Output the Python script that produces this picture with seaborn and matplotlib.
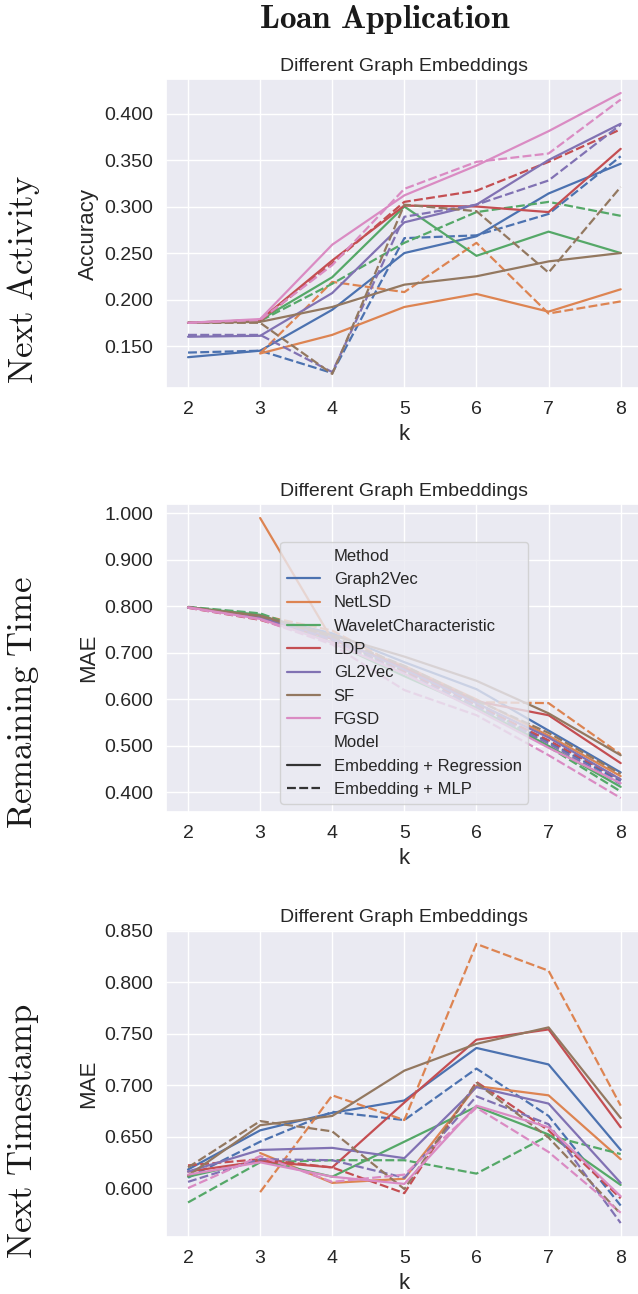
import numpy as np
import pandas as pd
import matplotlib
matplotlib.use("Agg")
import matplotlib.pyplot as plt
import seaborn as sns
from matplotlib.ticker import MultipleLocator, FormatStrFormatter

nan = np.nan
k_values = [2, 3, 4, 5, 6, 7, 8]
methods = ["Graph2Vec", "NetLSD", "WaveletCharacteristic", "LDP", "GL2Vec", "SF", "FGSD"]
models = ["Embedding + Regression", "Embedding + MLP"]

# ---- Next Activity (Accuracy) ----
acc_reg_graph2vec = [0.138, 0.145, 0.189, 0.250, 0.268, 0.314, 0.346]
acc_mlp_graph2vec = [0.143, 0.145, 0.121, 0.266, 0.269, 0.292, 0.354]
acc_reg_netlsd = [nan, 0.142, 0.162, 0.192, 0.206, 0.187, 0.211]
acc_mlp_netlsd = [nan, 0.142, 0.219, 0.208, 0.261, 0.185, 0.198]
acc_reg_wavelet = [0.175, 0.178, 0.224, 0.300, 0.247, 0.273, 0.250]
acc_mlp_wavelet = [0.175, 0.177, 0.217, 0.261, 0.294, 0.305, 0.290]
acc_reg_ldp = [0.175, 0.178, 0.242, 0.301, 0.300, 0.294, 0.362]
acc_mlp_ldp = [0.175, 0.177, 0.239, 0.305, 0.317, 0.348, 0.383]
acc_reg_gl2vec = [0.160, 0.161, 0.207, 0.283, 0.302, 0.350, 0.389]
acc_mlp_gl2vec = [0.162, 0.162, 0.122, 0.289, 0.302, 0.328, 0.388]
acc_reg_sf = [0.175, 0.176, 0.192, 0.216, 0.225, 0.241, 0.250]
acc_mlp_sf = [0.175, 0.175, 0.120, 0.302, 0.295, 0.229, 0.321]
acc_reg_fgsd = [0.175, 0.179, 0.259, 0.312, 0.344, 0.381, 0.422]
acc_mlp_fgsd = [0.175, 0.178, 0.237, 0.319, 0.348, 0.357, 0.415]

# ---- Remaining Time (MAE) ----
rt_reg_graph2vec = [0.798, 0.778, 0.742, 0.680, 0.622, 0.533, 0.443]
rt_mlp_graph2vec = [0.798, 0.776, 0.735, 0.668, 0.590, 0.508, 0.424]
rt_reg_netlsd = [nan, 0.990, 0.728, 0.672, 0.600, 0.522, 0.435]
rt_mlp_netlsd = [nan, 0.781, 0.748, 0.666, 0.594, 0.592, 0.482]
rt_reg_wavelet = [0.798, 0.782, 0.722, 0.650, 0.582, 0.500, 0.412]
rt_mlp_wavelet = [0.799, 0.785, 0.730, 0.660, 0.595, 0.498, 0.402]
rt_reg_ldp = [0.798, 0.776, 0.730, 0.668, 0.596, 0.566, 0.463]
rt_mlp_ldp = [0.797, 0.771, 0.725, 0.660, 0.588, 0.512, 0.428]
rt_reg_gl2vec = [0.798, 0.777, 0.733, 0.664, 0.592, 0.518, 0.428]
rt_mlp_gl2vec = [0.798, 0.775, 0.728, 0.656, 0.585, 0.505, 0.418]
rt_reg_sf = [0.798, 0.780, 0.738, 0.692, 0.640, 0.570, 0.480]
rt_mlp_sf = [0.798, 0.779, 0.735, 0.672, 0.598, 0.528, 0.440]
rt_reg_fgsd = [0.798, 0.773, 0.722, 0.655, 0.578, 0.496, 0.420]
rt_mlp_fgsd = [0.797, 0.772, 0.718, 0.620, 0.566, 0.480, 0.388]

# ---- Next Timestamp (MAE) ----
nt_reg_graph2vec = [0.618, 0.656, 0.673, 0.685, 0.736, 0.720, 0.637]
nt_mlp_graph2vec = [0.610, 0.645, 0.674, 0.666, 0.716, 0.670, 0.583]
nt_reg_netlsd = [nan, 0.634, 0.605, 0.609, 0.699, 0.690, 0.628]
nt_mlp_netlsd = [nan, 0.596, 0.690, 0.666, 0.837, 0.811, 0.680]
nt_reg_wavelet = [0.611, 0.627, 0.611, 0.645, 0.679, 0.652, 0.603]
nt_mlp_wavelet = [0.586, 0.625, 0.627, 0.627, 0.614, 0.651, 0.633]
nt_reg_ldp = [0.616, 0.626, 0.620, 0.683, 0.744, 0.754, 0.659]
nt_mlp_ldp = [0.622, 0.628, 0.620, 0.595, 0.703, 0.656, 0.590]
nt_reg_gl2vec = [0.616, 0.637, 0.639, 0.629, 0.698, 0.682, 0.605]
nt_mlp_gl2vec = [0.606, 0.628, 0.627, 0.610, 0.689, 0.662, 0.566]
nt_reg_sf = [0.612, 0.661, 0.670, 0.714, 0.740, 0.756, 0.668]
nt_mlp_sf = [0.620, 0.665, 0.655, 0.599, 0.702, 0.649, 0.575]
nt_reg_fgsd = [0.613, 0.625, 0.611, 0.604, 0.680, 0.659, 0.592]
nt_mlp_fgsd = [0.600, 0.631, 0.606, 0.613, 0.678, 0.635, 0.576]

row_labels = ["Next Activity", "Remaining Time", "Next Timestamp"]
y_labels = ["Accuracy", "MAE", "MAE"]
panel_title = "Different Graph Embeddings"
fig_title = "Loan Application"

panels = [
    {
        "Graph2Vec": (acc_reg_graph2vec, acc_mlp_graph2vec),
        "NetLSD": (acc_reg_netlsd, acc_mlp_netlsd),
        "WaveletCharacteristic": (acc_reg_wavelet, acc_mlp_wavelet),
        "LDP": (acc_reg_ldp, acc_mlp_ldp),
        "GL2Vec": (acc_reg_gl2vec, acc_mlp_gl2vec),
        "SF": (acc_reg_sf, acc_mlp_sf),
        "FGSD": (acc_reg_fgsd, acc_mlp_fgsd),
    },
    {
        "Graph2Vec": (rt_reg_graph2vec, rt_mlp_graph2vec),
        "NetLSD": (rt_reg_netlsd, rt_mlp_netlsd),
        "WaveletCharacteristic": (rt_reg_wavelet, rt_mlp_wavelet),
        "LDP": (rt_reg_ldp, rt_mlp_ldp),
        "GL2Vec": (rt_reg_gl2vec, rt_mlp_gl2vec),
        "SF": (rt_reg_sf, rt_mlp_sf),
        "FGSD": (rt_reg_fgsd, rt_mlp_fgsd),
    },
    {
        "Graph2Vec": (nt_reg_graph2vec, nt_mlp_graph2vec),
        "NetLSD": (nt_reg_netlsd, nt_mlp_netlsd),
        "WaveletCharacteristic": (nt_reg_wavelet, nt_mlp_wavelet),
        "LDP": (nt_reg_ldp, nt_mlp_ldp),
        "GL2Vec": (nt_reg_gl2vec, nt_mlp_gl2vec),
        "SF": (nt_reg_sf, nt_mlp_sf),
        "FGSD": (nt_reg_fgsd, nt_mlp_fgsd),
    },
]


def to_frame(panel):
    rows = []
    for m in methods:
        for model, vals in zip(models, panel[m]):
            for k, v in zip(k_values, vals):
                if not np.isnan(v):
                    rows.append({"k": k, "value": v, "Method": m, "Model": model})
    return pd.DataFrame(rows)


sns.set_theme(style="darkgrid", context="notebook")
plt.rcParams["font.family"] = ["Liberation Sans", "DejaVu Sans"]
plt.rcParams["mathtext.fontset"] = "cm"

W, H = 638, 1294
fig = plt.figure(figsize=(W / 100, H / 100), dpi=100)
left = 166.4 / W
width = (642.3 - 166.4) / W
boxes = [(79, 388), (504, 812), (930, 1237)]
locators = [0.05, 0.1, 0.05]
row_centers = [280, 703, 1131]

for i, (top, bot) in enumerate(boxes):
    ax = fig.add_axes([left, 1 - bot / H, width, (bot - top) / H])
    df = to_frame(panels[i])
    sns.lineplot(
        data=df, x="k", y="value", hue="Method", style="Model",
        hue_order=methods, style_order=models, ax=ax, legend=(i == 1),
        linewidth=1.6,
    )
    ax.set_xticks(k_values)
    ax.yaxis.set_major_locator(MultipleLocator(locators[i]))
    ax.yaxis.set_major_formatter(FormatStrFormatter("%.3f"))
    ax.tick_params(labelsize=14, colors=".15")
    ax.set_xlabel("k", fontsize=16, color=".15")
    ax.set_ylabel(y_labels[i], fontsize=16, color=".15")
    ax.set_title(panel_title, fontsize=14, color=".15")
    if i == 1:
        sns.move_legend(ax, "lower center", fontsize=12, title=None)
    fig.text(24 / W, 1 - row_centers[i] / H,
             r"$\mathrm{" + row_labels[i].replace(" ", r"\ ") + "}$",
             rotation=90, fontsize=25, ha="center", va="center", color="k")

fig.text(385 / W, 1 - 20 / H,
         r"$\mathbf{" + fig_title.replace(" ", r"\ ") + "}$",
         fontsize=24, ha="center", va="center", color="k")

fig.savefig("out.png", dpi=100)
